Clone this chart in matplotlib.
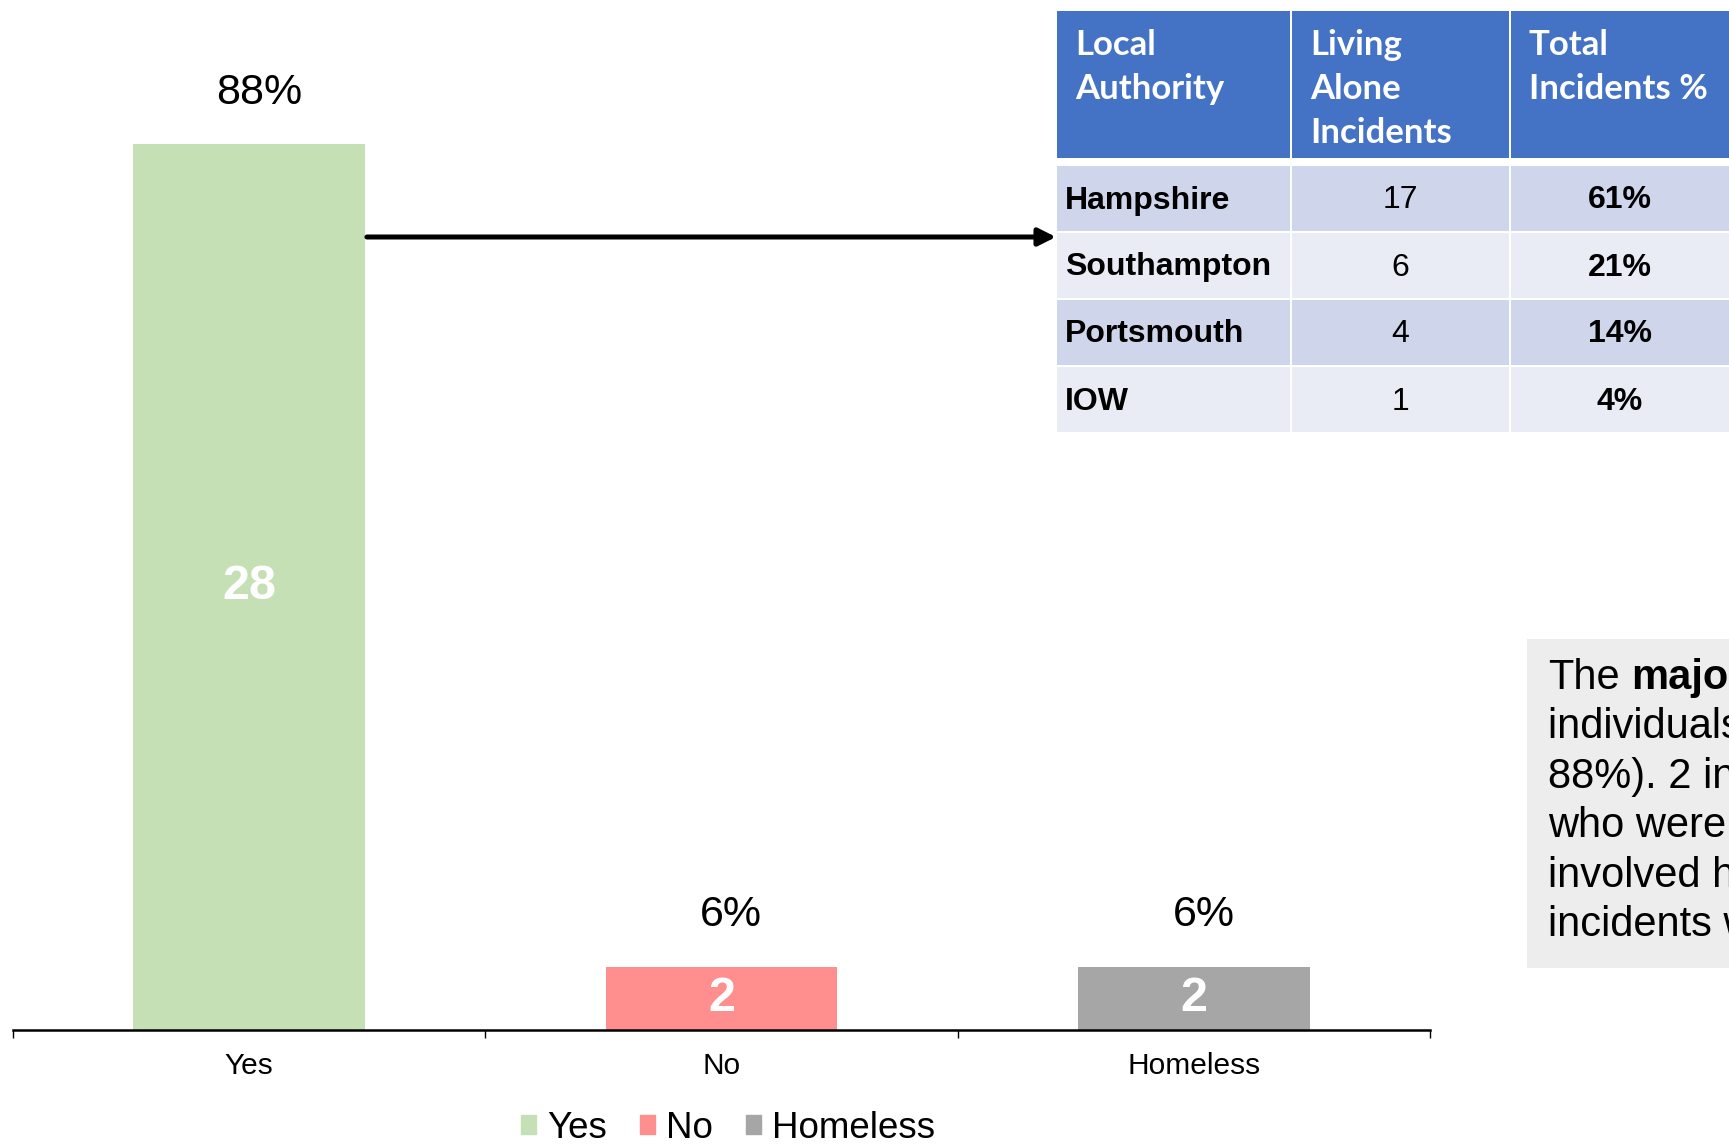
import matplotlib
matplotlib.use("Agg")
import matplotlib.pyplot as plt
import matplotlib.patches as mpatches
from matplotlib.patches import Rectangle

# Living arrangement of the individuals involved
categories = ["Yes", "No", "Homeless"]
counts     = [28, 2, 2]
bar_colors = ["#C5E0B4", "#FF8F8F", "#A6A6A6"]

# Living-alone incidents split by local authority
authorities  = ["Hampshire", "Southampton", "Portsmouth", "IOW"]
alone_counts = [17, 6, 4, 1]
table_header = ["Local\nAuthority", "Living\nAlone\nIncidents", "Total\nIncidents %"]

W, H, DPI = 1729, 1145, 100
plt.rcParams["font.family"] = ["Liberation Sans", "DejaVu Sans"]
HEAD_FONT = ["Lato", "DejaVu Sans"]

fig = plt.figure(figsize=(W / DPI, H / DPI), dpi=DPI)
fig.patch.set_facecolor("white")

# bar panel (pixel layout: left, right, top, bottom)
ax_l, ax_r, ax_t, ax_b = 13, 1430, 30, 1030
ax = fig.add_axes([ax_l / W, 1 - ax_b / H, (ax_r - ax_l) / W, (ax_b - ax_t) / H])

xs = list(range(len(categories)))
bw = 0.49
ax.bar(xs, counts, width=bw, color=bar_colors, zorder=2)
ax.set_xlim(-0.5, len(categories) - 0.5)
ax.set_ylim(0, 31.6)

total = sum(counts)
for xi, v in zip(xs, counts):
    ax.text(xi, v / 2, str(v), ha="center", va="center",
            color="white", fontsize=35, fontweight="bold", zorder=3)
    ax.annotate(f"{round(100 * v / total)}%", (xi, v), xytext=(7, 22.5),
                textcoords="offset points", ha="center", va="bottom", fontsize=31)

for s in ("top", "right", "left"):
    ax.spines[s].set_visible(False)
ax.spines["bottom"].set_linewidth(1.8)
ax.set_yticks([])
ax.set_xticks(xs)
ax.set_xticklabels(categories, fontsize=21.5)
ax.tick_params(axis="x", which="major", length=0, pad=15.5)
ax.set_xticks([i - 0.5 for i in range(len(categories) + 1)], minor=True)
ax.tick_params(axis="x", which="minor", length=6, width=1.0, color="black")

handles = [mpatches.Patch(color=c, label=l) for l, c in zip(categories, bar_colors)]
fig.legend(handles=handles, loc="center", bbox_to_anchor=(728 / W, 1 - 1128 / H),
           ncol=3, frameon=False, fontsize=26.5, handlelength=0.4, handleheight=0.4,
           handletextpad=0.3, columnspacing=0.9, borderaxespad=0)

# overlay in pixel coordinates for the table, arrow and note
lay = fig.add_axes([0, 0, 1, 1], zorder=3)
lay.set_xlim(0, W)
lay.set_ylim(H, 0)
lay.axis("off")

col_left = [1057, 1292, 1511]
col_w    = [233, 217, 220]
head_top, head_bot = 11, 158
row_top0, row_pitch, row_h = 166, 67, 65
row_fill = ["#CFD5EA", "#E9EBF5"]

for cl, cw, head in zip(col_left, col_w, table_header):
    lay.add_patch(Rectangle((cl, head_top), cw, head_bot - head_top,
                            color="#4472C4", lw=0))
    for k, line in enumerate(head.split("\n")):
        lay.text(cl + 18, 55 + 44 * k, line, fontsize=25, fontweight="bold",
                 color="white", family=HEAD_FONT, va="baseline")

n_alone = sum(alone_counts)
for i, (name, n) in enumerate(zip(authorities, alone_counts)):
    top = row_top0 + i * row_pitch
    cy = top + row_h / 2 + 2
    for cl, cw in zip(col_left, col_w):
        lay.add_patch(Rectangle((cl, top), cw, row_h, color=row_fill[i % 2], lw=0))
    lay.text(col_left[0] + 8, cy, name, fontsize=23, fontweight="bold", va="center")
    lay.text(col_left[1] + col_w[1] / 2, cy, str(n), fontsize=23,
             ha="center", va="center")
    lay.text(col_left[2] + col_w[2] / 2 - 1, cy, f"{round(100 * n / n_alone)}%",
             fontsize=23, fontweight="bold", ha="center", va="center")

# arrow from the "Yes" bar to the table
bar_right = ax.transData.transform((bw / 2, 0))[0]
lay.annotate("", xy=(col_left[0] - 1, 237), xytext=(bar_right + 2, 237),
             arrowprops=dict(arrowstyle="-|>", color="black", lw=3.6,
                             mutation_scale=26, shrinkA=0, shrinkB=0))

# summary note
lay.add_patch(Rectangle((1527, 639), 260, 329, color="#EDEDED", lw=0))
note_x, note_y0, note_dy, note_fs = 1548, 689, 49.4, 30
space = 0.278 * note_fs
t0 = lay.text(note_x, note_y0, "The", fontsize=note_fs, va="baseline")
t1 = lay.annotate("majority", xy=(1, 0), xycoords=t0, xytext=(space, 0),
                  textcoords="offset points", fontsize=note_fs, fontweight="bold",
                  va="bottom")
lay.annotate("of incidents involved", xy=(1, 0), xycoords=t1, xytext=(space, 0),
             textcoords="offset points", fontsize=note_fs, va="bottom")
pct_alone = round(100 * counts[0] / total)
note_lines = [
    f"individuals living alone ({counts[0]} incidents,",
    f"{pct_alone}%). {counts[1]} incidents involved individuals",
    f"who were not living alone and {counts[2]}",
    "involved homeless individuals. Most",
    "incidents were in Hampshire.",
]
for k, line in enumerate(note_lines, start=1):
    lay.text(note_x, note_y0 + k * note_dy, line, fontsize=note_fs, va="baseline")

fig.savefig("out.png", dpi=DPI, facecolor="white")
